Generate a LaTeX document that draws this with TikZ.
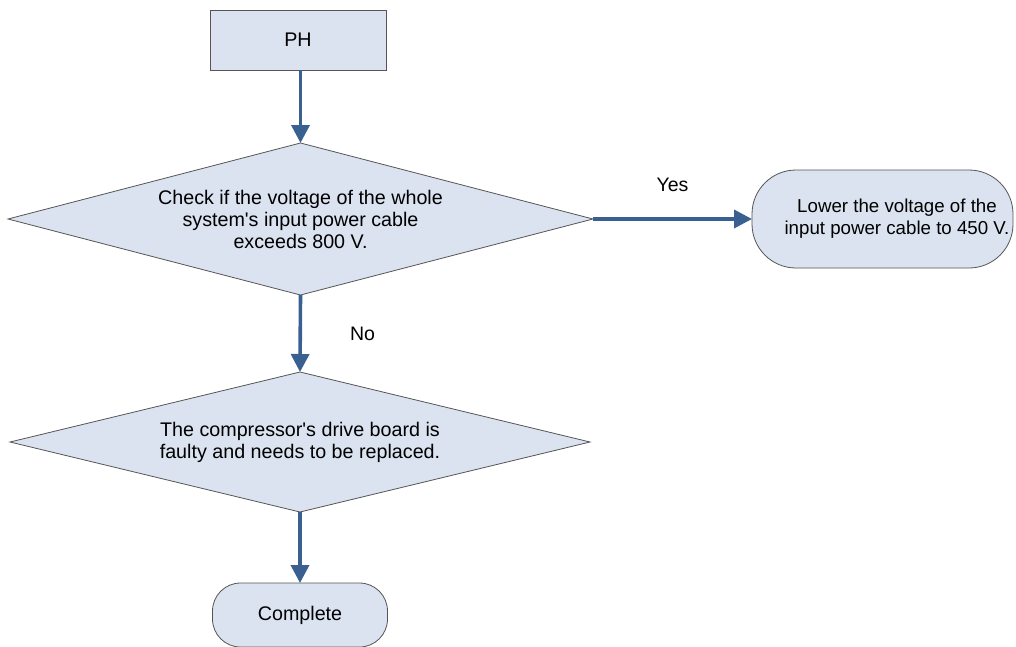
\documentclass[tikz,border=0pt]{standalone}
\usepackage{fontspec}
\setmainfont{Liberation Sans}[Ligatures=TeXOff]
\usetikzlibrary{arrows.meta,shapes.geometric}
\definecolor{boxfill}{RGB}{219,227,240}
\definecolor{boxline}{RGB}{85,85,85}
\definecolor{arrowc}{RGB}{58,95,145}
\tikzset{
  base/.style={draw=boxline, fill=boxfill, line width=0.8pt, align=center,
    font=\fontsize{19.7}{22}\selectfont, inner sep=0pt, outer sep=0pt},
  procbox/.style={base, rectangle, minimum width=176pt, minimum height=60pt},
  decision/.style={base, diamond, aspect=3.8},
  termbox/.style={base, rectangle, rounded corners=36pt},
  txt/.style={align=center, font=\fontsize{18.7}{22}\selectfont, inner sep=0pt},
  flow/.style={draw=arrowc, line width=3.6pt, -{Triangle[length=18pt,width=18pt]}},
  lbl/.style={font=\fontsize{19.5}{22}\selectfont, inner sep=0pt}
}
\begin{document}
\begin{tikzpicture}[x=1pt,y=-1pt]
\useasboundingbox (0,0) rectangle (1016,646);
\clip (0,0) rectangle (1016,646);
\node[procbox] (ph) at (298,40) {PH};
\node[decision, minimum width=585pt, minimum height=152pt] (d1) at (300.5,219)
  {Check if the voltage of the whole\\system's input power cable\\exceeds 800 V.};
\node[termbox, rounded corners=44pt, minimum width=261pt, minimum height=98pt] (low) at (882.5,219) {};
\node[txt] (lowtxt) at (897,219)
  {Lower the voltage of the\\input power cable to 450 V.};
\node[decision, minimum width=580pt, minimum height=140pt] (d2) at (300,442)
  {The compressor's drive board is\\faulty and needs to be replaced.};
\node[termbox, rounded corners=28pt, minimum width=175pt, minimum height=64pt] (done) at (300,615)
  {Complete};
\draw[flow] (ph.south -| d1.north) -- (d1.north);
\draw[flow] (d1.east) -- (low.west) node[lbl, pos=0.5, above=26pt] (yes) {Yes};
\draw[flow] (d1.south) -- (d2.north) node[lbl, pos=0.5, right=48pt] (no) {No};
\draw[flow] (d2.south) -- (done.north);
\end{tikzpicture}
\end{document}
